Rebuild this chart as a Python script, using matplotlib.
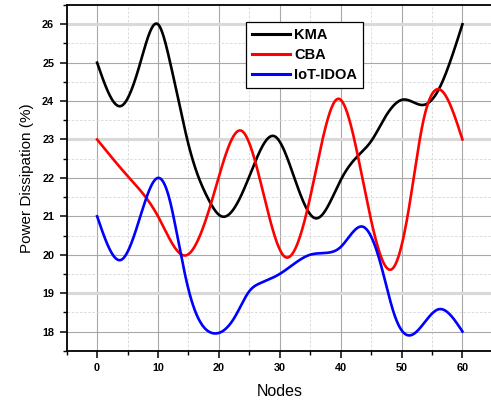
import numpy as np
import matplotlib
matplotlib.use("Agg")
import matplotlib.pyplot as plt
from matplotlib.ticker import MultipleLocator

plt.rcParams['font.family'] = ['Liberation Sans', 'DejaVu Sans']

# values (knots of the smooth curves)
kma_nodes = [0, 3.9, 7.1, 10, 12.0, 13.4, 14.8, 16.7, 18.1, 20.4, 24.9, 29.2, 32.4,
             35.8, 40.2, 42.4, 45.2, 47.0, 50.3, 53.6, 56.1, 57.7, 60]
kma_power = [25.0, 23.87, 25.0, 26.0, 25.0, 24.0, 23.0, 22.0, 21.5, 21.0, 22.0, 23.08, 22.0,
             20.95, 22.0, 22.5, 23.0, 23.5, 24.04, 23.9, 24.3, 24.9, 26.0]

cba_nodes = [0, 5, 10, 14.5, 19.3, 23.8, 27.3, 30.8, 35.0, 39.6, 44.0, 48.6, 51.2,
             53.4, 56.3, 60]
cba_power = [23.0, 22.05, 21.0, 19.98, 21.65, 23.22, 21.6, 19.95, 21.5, 24.06, 21.65, 19.65, 21.2,
             23.35, 24.3, 23.0]

iot_nodes = [0, 4.0, 7.1, 10, 11.8, 13.4, 15.0, 18.9, 22.7, 25.0, 26.8, 30.0, 35.0,
             37.8, 40.0, 43.8, 46.5, 48.8, 51.1, 56.1, 60]
iot_power = [21.0, 19.87, 21.0, 22.0, 21.5, 20.3, 19.1, 17.96, 18.4, 19.05, 19.26, 19.5, 20.0,
             20.05, 20.2, 20.72, 19.8, 18.45, 17.9, 18.58, 18.0]

series = [("KMA", kma_nodes, kma_power, "black"),
          ("CBA", cba_nodes, cba_power, "red"),
          ("IoT-IDOA", iot_nodes, iot_power, "blue")]


def smooth(x, y, xs):
    # natural cubic spline through the knots (the original uses a spline line)
    x = np.asarray(x, float)
    y = np.asarray(y, float)
    n = len(x)
    h = np.diff(x)
    d = np.diff(y) / h
    A = np.zeros((n, n))
    b = np.zeros(n)
    A[0, 0] = A[-1, -1] = 1
    for i in range(1, n - 1):
        A[i, i - 1] = h[i - 1]
        A[i, i] = 2 * (h[i - 1] + h[i])
        A[i, i + 1] = h[i]
        b[i] = 6 * (d[i] - d[i - 1])
    M = np.linalg.solve(A, b)
    i = np.clip(np.searchsorted(x, xs, side='right') - 1, 0, n - 2)
    a = x[i + 1] - xs
    c = xs - x[i]
    hi = h[i]
    return (M[i] * a**3 / (6 * hi) + M[i + 1] * c**3 / (6 * hi)
            + (y[i] / hi - M[i] * hi / 6) * a + (y[i + 1] / hi - M[i + 1] * hi / 6) * c)


fig = plt.figure(figsize=(4.91, 4.05), dpi=100)
ax = fig.add_axes([0.1358, 0.134, 0.868, 0.8535])

xs = np.linspace(0, 60, 800)
for name, nx, ny, col in series:
    ax.plot(xs, smooth(nx, ny, xs), color=col, lw=1.9, label=name, zorder=3)

ax.set_xlim(-5, 65)
ax.set_ylim(17.5, 26.5)
ax.xaxis.set_major_locator(MultipleLocator(10))
ax.xaxis.set_minor_locator(MultipleLocator(5))
ax.yaxis.set_major_locator(MultipleLocator(1))
ax.yaxis.set_minor_locator(MultipleLocator(0.5))

ax.set_axisbelow(True)
ax.grid(which='major', color='#a8a8a8', lw=0.8)
ax.grid(which='minor', color='#d6d6d6', lw=0.6, ls=(0, (3, 2)))
for v in [26, 23, 19]:
    ax.axhline(v, color='#d9d9d9', lw=2.2, zorder=0.8)

for s in ['left', 'bottom', 'top']:
    ax.spines[s].set_linewidth(1.3)
ax.spines['right'].set_visible(False)

ax.tick_params(which='major', direction='out', length=5, width=1.1, labelsize=7.8, pad=4)
ax.tick_params(which='minor', direction='out', length=3, width=1.0)
ax.tick_params(top=False, right=False)
for lab in ax.get_xticklabels() + ax.get_yticklabels():
    lab.set_fontweight('bold')

ax.set_xlabel("Nodes", fontsize=11.5, labelpad=8)
ax.set_ylabel("Power Dissipation (%)", fontsize=11, labelpad=6)

leg = ax.legend(loc='upper left', bbox_to_anchor=(0.4206, 0.951), borderaxespad=0,
                prop={'weight': 'bold', 'size': 10.5}, handlelength=2.6,
                handletextpad=0.3, labelspacing=0.42, borderpad=0.4,
                fancybox=False, framealpha=1)
leg.get_frame().set_edgecolor('black')
leg.get_frame().set_linewidth(0.9)
for line in leg.get_lines():
    line.set_linewidth(2.2)

fig.savefig("out.png", dpi=100)
